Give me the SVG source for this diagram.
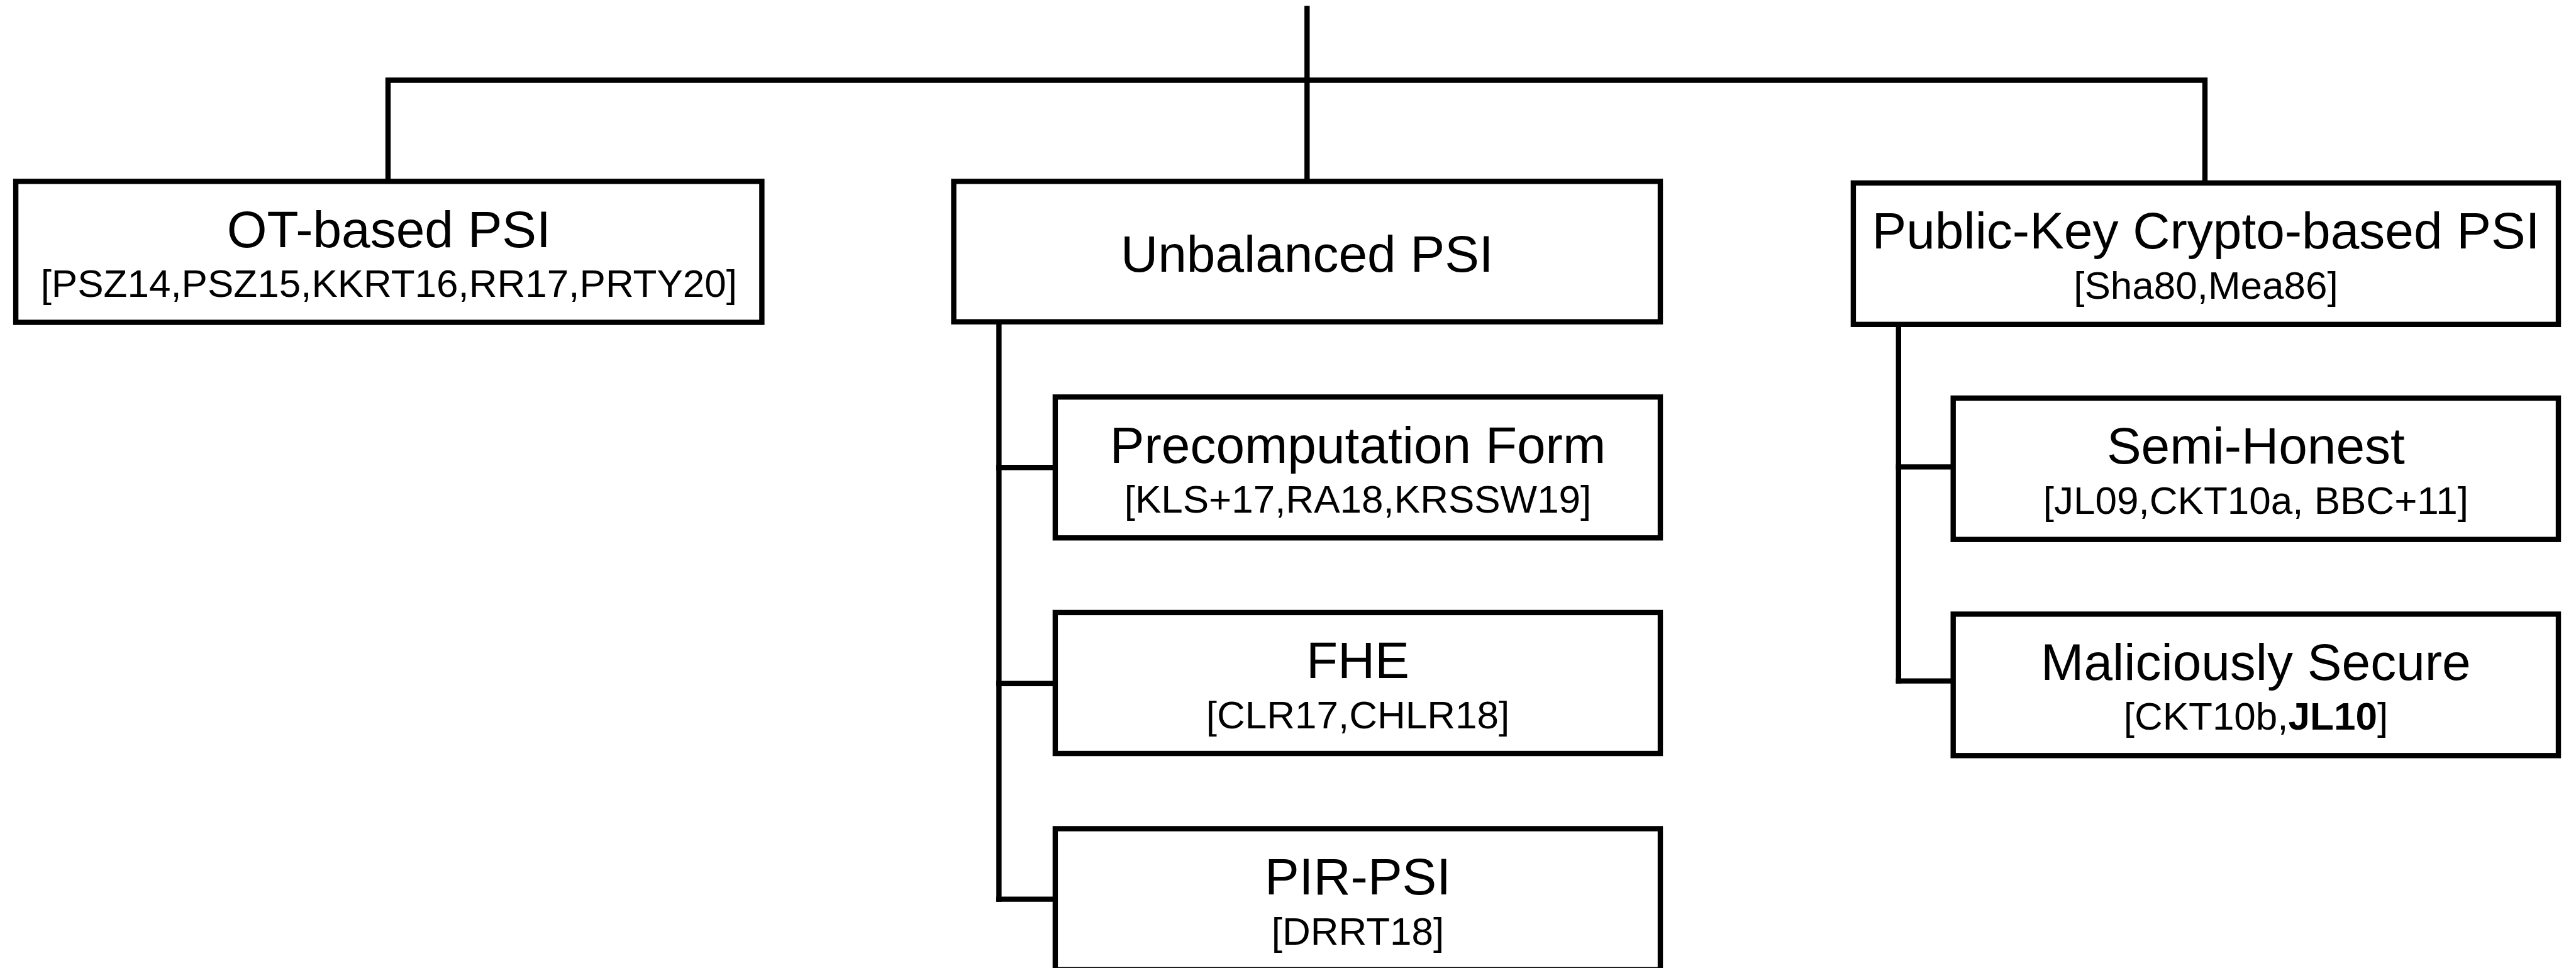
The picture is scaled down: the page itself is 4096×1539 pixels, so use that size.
<svg xmlns="http://www.w3.org/2000/svg" width="4096" height="1539" viewBox="0 0 4096 1539">
<style>
.box{fill:#fff;stroke:#000;stroke-width:8.4}
.ln{fill:none;stroke:#000;stroke-width:8.4;stroke-linecap:square}
.t{font-family:"Liberation Sans",Arial,Helvetica,sans-serif;font-size:82px;text-anchor:middle;fill:#000}
.c{font-family:"Liberation Sans",Arial,Helvetica,sans-serif;font-size:62px;text-anchor:middle;fill:#000}
</style>
<rect width="4096" height="1539" fill="#fff"/>
<g id="connectors">
<path class="ln" d="M2078.3 13.4V288.4"/>
<path class="ln" d="M617 288.4V127.5H3506V290.9"/>
<path class="ln" d="M1588.4 511.6V1429.6"/>
<path class="ln" d="M1588.4 743.2H1677.9M1588.4 1086.8H1677.9M1588.4 1429.6H1677.9"/>
<path class="ln" d="M3018.8 515.8V1082.6"/>
<path class="ln" d="M3018.8 742.4H3105.7M3018.8 1082.6H3105.7"/>
</g>
<g id="ot">
<rect class="box" x="25.1" y="288.4" width="1186.3" height="224.1"/>
<text class="t" x="618.3" y="392.9">OT-based PSI</text>
<text class="c" x="618.3" y="472.4">[PSZ14,PSZ15,KKRT16,RR17,PRTY20]</text>
</g>
<g id="unbalanced">
<rect class="box" x="1516.5" y="288.4" width="1123.5" height="223.2"/>
<text class="t" x="2078.3" y="431.8">Unbalanced PSI</text>
</g>
<g id="pk">
<rect class="box" x="2946.9" y="290.9" width="1121.1" height="224.9"/>
<text class="t" x="3507.5" y="395.4">Public-Key Crypto-based PSI</text>
<text class="c" x="3507.5" y="474.9">[Sha80,Mea86]</text>
</g>
<g id="precomputation">
<rect class="box" x="1677.9" y="631.2" width="962.1" height="224"/>
<text class="t" x="2159" y="735.7">Precomputation Form</text>
<text class="c" x="2159" y="815.2">[KLS+17,RA18,KRSSW19]</text>
</g>
<g id="fhe">
<rect class="box" x="1677.9" y="973.9" width="962.1" height="224.1"/>
<text class="t" x="2159" y="1078.4">FHE</text>
<text class="c" x="2159" y="1157.9">[CLR17,CHLR18]</text>
</g>
<g id="pirpsi">
<rect class="box" x="1677.9" y="1317.5" width="962.1" height="224.1"/>
<text class="t" x="2159" y="1422">PIR-PSI</text>
<text class="c" x="2159" y="1501.5">[DRRT18]</text>
</g>
<g id="semihonest">
<rect class="box" x="3105.7" y="632.9" width="962.3" height="224.8"/>
<text class="t" x="3586.9" y="737.4">Semi-Honest</text>
<text class="c" x="3586.9" y="816.9">[JL09,CKT10a, BBC+11]</text>
</g>
<g id="malicious">
<rect class="box" x="3105.7" y="976.4" width="962.3" height="224.9"/>
<text class="t" x="3586.9" y="1080.9">Maliciously Secure</text>
<text class="c" x="3586.9" y="1160.4">[CKT10b,<tspan font-weight="bold">JL10</tspan>]</text>
</g>
</svg>
